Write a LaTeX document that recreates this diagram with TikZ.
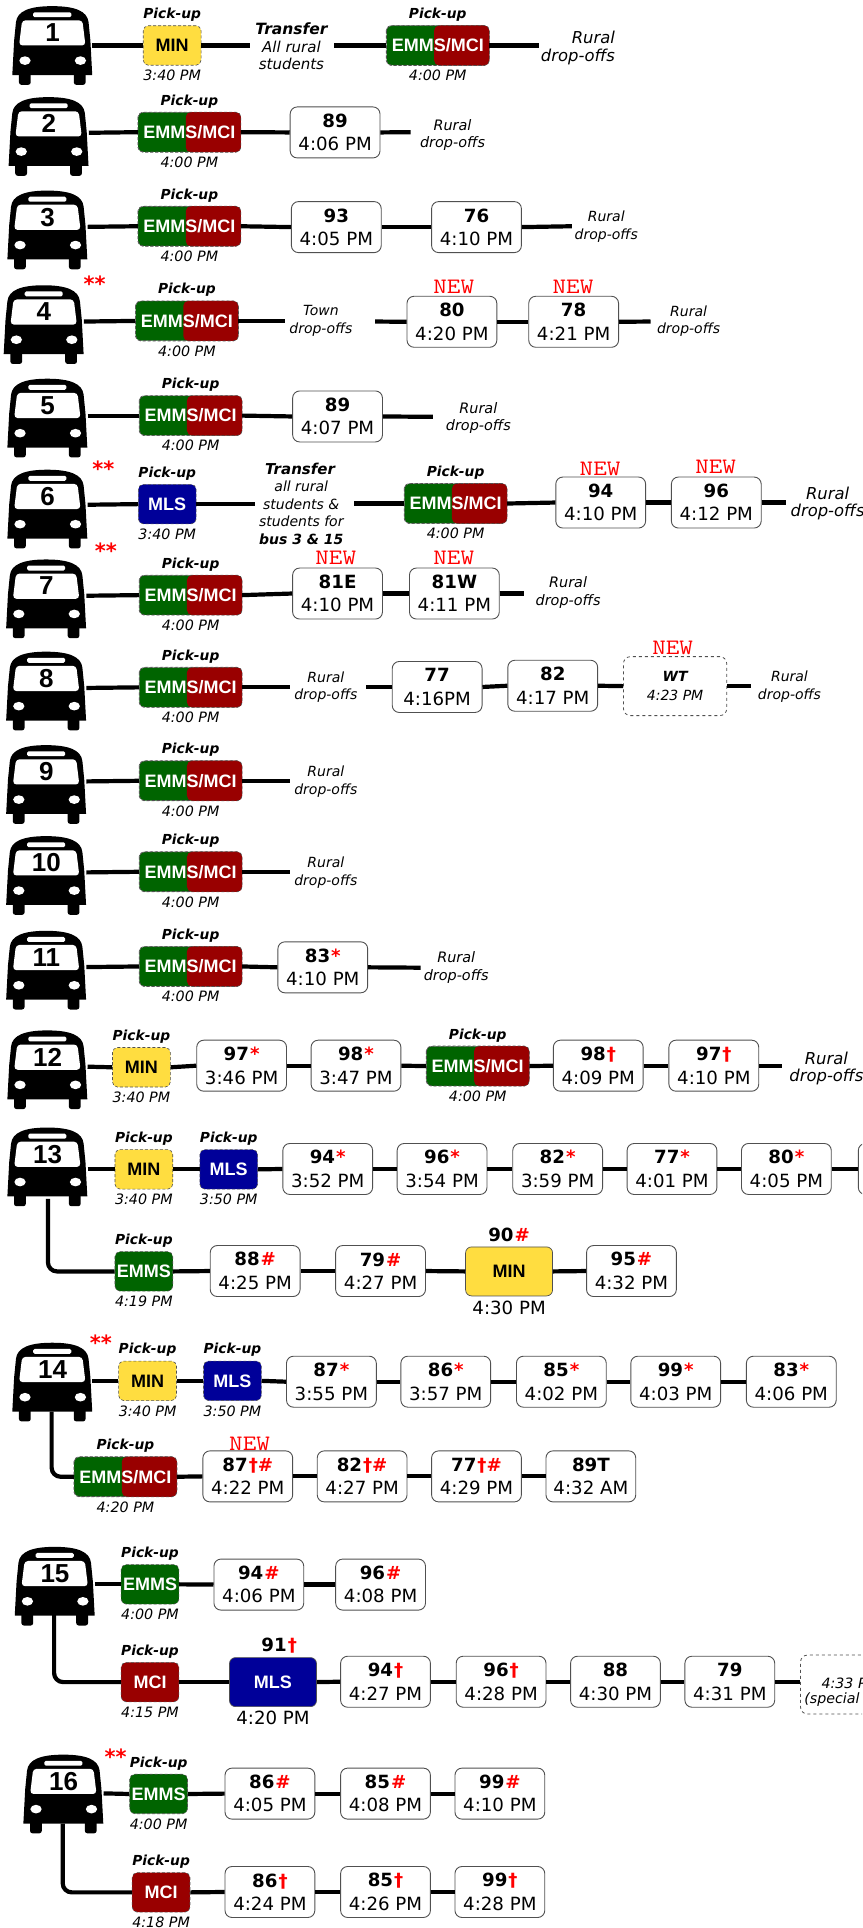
\documentclass[tikz,border=0pt]{standalone}
\usepackage{fontspec}
\setmainfont{DejaVu Sans}
\setsansfont{Liberation Sans}
\definecolor{pgreen}{HTML}{006400}
\definecolor{pred}{HTML}{990000}
\definecolor{pblue}{HTML}{000099}
\definecolor{pyel}{HTML}{FFDD40}
\definecolor{bdr}{HTML}{505050}
\newcommand\fz[2]{\fontsize{#1}{#2}\selectfont}
\newcommand\mk[1]{\textcolor{red}{\kern1pt #1}}
\tikzset{
  conn/.style={line width=4.2pt,draw=black},
  stopbox/.style={draw=bdr,line width=.9pt,fill=white,rounded corners=7pt,minimum width=89.8pt,minimum height=51pt,inner sep=0pt,align=center,font=\fz{18.2}{23.4}},
  dashbox/.style={draw=bdr,line width=.8pt,dashed,fill=white,rounded corners=7pt,inner sep=0pt,align=center},
  pillsolo/.style={draw=bdr,line width=.6pt,densely dashed,rounded corners=5pt,minimum width=57.8pt,minimum height=39.5pt,inner sep=0pt},
  pillduo/.style={draw=bdr,line width=.6pt,densely dashed,rounded corners=5pt,minimum width=102.5pt,minimum height=39.5pt,inner sep=0pt,fill=pgreen},
  pilltxt/.style={font=\sffamily\bfseries\fz{18}{20},inner sep=0pt},
  bigpill/.style={draw=bdr,line width=.7pt,rounded corners=6pt,minimum width=87pt,minimum height=49pt,inner sep=0pt,font=\sffamily\bfseries\fz{18}{20}},
  pu/.style={font=\bfseries\itshape\fz{13.8}{16},inner sep=0pt},
  tm/.style={font=\itshape\fz{14.3}{16},inner sep=0pt},
  note/.style={font=\itshape\fz{#1}{17.5},inner sep=0pt,align=center},
  newtag/.style={text=red,inner sep=0pt,font=\ttfamily\fz{22}{24}},
  stars/.style={text=red,inner sep=0pt,font=\bfseries\fz{21}{24}},
  busnum/.style={font=\sffamily\bfseries\fz{26}{28},inner sep=0pt},
  busport/.style={minimum width=80pt,minimum height=0pt,inner sep=0pt},
}
% name, left, top, line y, number
\newcommand\busicon[5]{%
  \begin{scope}[shift={(#2,#3)}]
    \fill[black,rounded corners=2.5pt] (5.4,48) rectangle (15,64);
    \fill[black,rounded corners=2.5pt] (50,48) rectangle (59.6,64);
    \fill[black] (0,56) -- (1.5,28) -- (3,13) .. controls (4,4) and (14,0) .. (32.5,0) .. controls (51,0) and (61,4) .. (62,13) -- (63.5,28) -- (65,56) -- cycle;
    \fill[white,rounded corners=1.5pt] (17,5) rectangle (48,9);
    \fill[white,rounded corners=3.5pt] (5.5,32) -- (8,11.5) -- (57,11.5) -- (59.5,32) -- cycle;
    \fill[white] (10.3,44.3) ellipse [x radius=4.6,y radius=3.5];
    \fill[white] (55.4,44.3) ellipse [x radius=4.6,y radius=3.5];
    \node[busnum] (#1n) at (32.7,21.6) {#5};
  \end{scope}
  \node[busport] (#1) at ({#2+32.5},#4) {};
}
% name, left, top, number, time
\newcommand\stopn[5]{\node[stopbox] (#1) at ({#2+36.5},{#3+20.7}) {{\bfseries #4}\\#5};}
% name, cx, cy, time
\newcommand\duo[4]{%
  \node[pillduo] (#1) at (#2,#3) {};
  \fill[pred,rounded corners=5pt] ($(#1.north west)!.465!(#1.north east)$) rectangle (#1.south east);
  \draw[bdr,line width=.6pt,densely dashed,rounded corners=5pt] (#1.north west) rectangle (#1.south east);
  \node[pilltxt,text=white] (#1x) at (#2,#3) {EMMS/MCI};
  \node[pu] (#1p) at (#2,{#3-25}) {Pick-up};
  \node[tm] (#1t) at (#2,{#3+24.5}) {#4};
}
% name, cx, cy, fill, textcolor, text, time
\newcommand\solo[7]{%
  \node[pillsolo,fill=#4,text=#5,font=\sffamily\bfseries\fz{18}{20}] (#1) at (#2,#3) {#6};
  \node[pu] (#1p) at (#2,{#3-25}) {Pick-up};
  \node[tm] (#1t) at (#2,{#3+24.5}) {#7};
}
\newcommand\lk[2]{\draw[conn] (#1.east) -- (#2.west);}
\usetikzlibrary{calc}
\begin{document}
\begin{tikzpicture}[x=1.22967pt,y=-1.22959pt]
\useasboundingbox (0,0) rectangle (701,1568);
\clip (0,0) rectangle (701,1568);
% ---- row 1
\busicon{b1}{10}{5}{37}{1}
\solo{r1a}{140}{37}{pyel}{black}{MIN}{3:40 PM}
\node[font=\bfseries\itshape\fz{15.5}{18},inner sep=0pt] (r1h) at (237,23) {Transfer};
\node[font=\itshape\fz{15}{17.5},inner sep=0pt,align=center] (r1n) at (237,45) {All rural\\students};
\coordinate (r1c) at (203,37);
\coordinate (r1d) at (272,37);
\duo{r1b}{356}{37}{4:00 PM}
\coordinate (r1e) at (438,37);
\node[note=16.4,align=right] (r1r) at (470,39) {Rural\\drop-offs};
\lk{b1}{r1a}
\draw[conn] (r1a.east) -- (r1c);
\draw[conn] (r1d) -- (r1b.west);
\draw[conn] (r1b.east) -- (r1e);
% ---- row 2
\busicon{b2}{7}{79}{108}{2}
\duo{r2a}{154}{107.5}{4:00 PM}
\stopn{r2b}{236}{87}{89}{4:06 PM}
\coordinate (r2c) at (334,107.5);
\node[note=14.4] (r2r) at (368,110) {Rural\\drop-offs};
\lk{b2}{r2a}\lk{r2a}{r2b}
\draw[conn] (r2b.east) -- (r2c);
% ---- row 3
\busicon{b3}{6}{155}{184.5}{3}
\duo{r3a}{154}{184}{4:00 PM}
\stopn{r3b}{237}{164}{93}{4:05 PM}
\stopn{r3c}{351}{164}{76}{4:10 PM}
\coordinate (r3d) at (465,184);
\node[note=14] (r3r) at (493,184.5) {Rural\\drop-offs};
\lk{b3}{r3a}\lk{r3a}{r3b}\lk{r3b}{r3c}
\draw[conn] (r3c.east) -- (r3d);
% ---- row 4
\node[stars] (s4) at (77,231) {**};
\busicon{b4}{3}{232}{261.5}{4}
\duo{r4a}{152}{261}{4:00 PM}
\coordinate (r4c) at (232,261);
\node[note=14] (r4n) at (261,261) {Town\\drop-offs};
\coordinate (r4d) at (305,261.5);
\stopn{r4e}{331}{241}{80}{4:20 PM}
\stopn{r4f}{430}{241}{78}{4:21 PM}
\node[newtag] (n4e) at (369,233) {\scalebox{1.2}[1]{NEW}};
\node[newtag] (n4f) at (466,233) {\scalebox{1.2}[1]{NEW}};
\coordinate (r4g) at (529,261.5);
\node[note=14] (r4r) at (560,261) {Rural\\drop-offs};
\lk{b4}{r4a}
\draw[conn] (r4a.east) -- (r4c);
\draw[conn] (r4d) -- (r4e.west);
\lk{r4e}{r4f}
\draw[conn] (r4f.east) -- (r4g);
% ---- row 5
\busicon{b5}{6}{308}{338}{5}
\duo{r5a}{155}{338}{4:00 PM}
\stopn{r5b}{238}{318}{89}{4:07 PM}
\coordinate (r5c) at (352,339);
\node[note=14.4] (r5r) at (389,340) {Rural\\drop-offs};
\lk{b5}{r5a}\lk{r5a}{r5b}
\draw[conn] (r5b.east) -- (r5c);
% ---- row 6
\node[stars] (s6) at (84,381) {**};
\busicon{b6}{6}{382}{410.5}{6}
\solo{r6a}{136}{410}{pblue}{white}{MLS}{3:40 PM}
\coordinate (r6b) at (207,410);
\node[font=\bfseries\itshape\fz{15}{18},inner sep=0pt] (r6h) at (244,381) {Transfer};
\node[font=\itshape\fz{14}{17.5},inner sep=0pt,align=center] (r6n) at (245,417) {all rural\\students \&\\students for\\{\bfseries bus 3 \& 15}};
\coordinate (r6c) at (288,409.5);
\duo{r6d}{370.5}{409.5}{4:00 PM}
\stopn{r6e}{452}{388}{94}{4:10 PM}
\stopn{r6f}{546}{388}{96}{4:12 PM}
\node[newtag] (n6e) at (488,381) {\scalebox{1.2}[1]{NEW}};
\node[newtag] (n6f) at (582,380) {\scalebox{1.2}[1]{NEW}};
\coordinate (r6g) at (639,408.7);
\node[note=16.4] (r6r) at (673,409.5) {Rural\\drop-offs};
\lk{b6}{r6a}
\draw[conn] (r6a.east) -- (r6b);
\draw[conn] (r6c) -- (r6d.west);
\lk{r6d}{r6e}\lk{r6e}{r6f}
\draw[conn] (r6f.east) -- (r6g);
% ---- row 7
\node[stars] (s7) at (86,448) {**};
\busicon{b7}{5}{455}{484.5}{7}
\duo{r7a}{155}{484}{4:00 PM}
\stopn{r7b}{238}{462}{81E}{4:10 PM}
\stopn{r7c}{333}{462}{81W}{4:11 PM}
\node[newtag] (n7b) at (273,454) {\scalebox{1.2}[1]{NEW}};
\node[newtag] (n7c) at (369,454) {\scalebox{1.2}[1]{NEW}};
\coordinate (r7d) at (426,482.7);
\node[note=14.4] (r7r) at (462,482) {Rural\\drop-offs};
\lk{b7}{r7a}\lk{r7a}{r7b}\lk{r7b}{r7c}
\draw[conn] (r7c.east) -- (r7d);
% ---- row 8
\busicon{b8}{5}{530}{559.5}{8}
\duo{r8a}{155}{559}{4:00 PM}
\coordinate (r8c) at (236,559);
\node[note=14] (r8n) at (265,559) {Rural\\drop-offs};
\coordinate (r8d) at (298,558.7);
\stopn{r8e}{319}{538}{77}{4:16PM}
\stopn{r8f}{413}{537}{82}{4:17 PM}
\node[dashbox,minimum width=103.3pt,minimum height=59pt,font=\fz{14}{19.5}] (r8g) at (549,558) {{\bfseries\itshape WT}\\\itshape 4:23 PM};
\node[newtag] (n8g) at (547,527) {\scalebox{1.2}[1]{NEW}};
\coordinate (r8h) at (611,558);
\node[note=14] (r8r) at (642,558.5) {Rural\\drop-offs};
\lk{b8}{r8a}
\draw[conn] (r8a.east) -- (r8c);
\draw[conn] (r8d) -- (r8e.west);
\lk{r8e}{r8f}\lk{r8f}{r8g}
\draw[conn] (r8g.east) -- (r8h);
% ---- row 9
\busicon{b9}{5}{606}{635.5}{9}
\duo{r9a}{155}{635}{4:00 PM}
\coordinate (r9c) at (236,635);
\node[note=14] (r9r) at (265,635.5) {Rural\\drop-offs};
\lk{b9}{r9a}
\draw[conn] (r9a.east) -- (r9c);
% ---- row 10
\busicon{b10}{5}{680}{709.5}{10}
\duo{r10a}{155}{709}{4:00 PM}
\coordinate (r10c) at (236,709);
\node[note=14] (r10r) at (265,709.5) {Rural\\drop-offs};
\lk{b10}{r10a}
\draw[conn] (r10a.east) -- (r10c);
% ---- row 11
\busicon{b11}{5}{757}{786.5}{11}
\duo{r11a}{155}{786}{4:00 PM}
\stopn{r11b}{226}{766}{83\mk{*}}{4:10 PM}
\coordinate (r11c) at (342,787);
\node[note=14.4] (r11r) at (371,787) {Rural\\drop-offs};
\lk{b11}{r11a}\lk{r11a}{r11b}
\draw[conn] (r11b.east) -- (r11c);
% ---- row 12
\busicon{b12}{6}{838}{867.5}{12}
\solo{r12a}{115}{868}{pyel}{black}{MIN}{3:40 PM}
\stopn{r12b}{160}{846}{97\mk{*}}{3:46 PM}
\stopn{r12c}{253}{846}{98\mk{*}}{3:47 PM}
\duo{r12d}{388.5}{867}{4:00 PM}
\stopn{r12e}{450}{846}{98\mk{†}}{4:09 PM}
\stopn{r12f}{544}{846}{97\mk{†}}{4:10 PM}
\coordinate (r12g) at (636,866.7);
\node[note=16.4] (r12r) at (672,869) {Rural\\drop-offs};
\lk{b12}{r12a}\lk{r12a}{r12b}\lk{r12b}{r12c}\lk{r12c}{r12d}\lk{r12d}{r12e}\lk{r12e}{r12f}
\draw[conn] (r12f.east) -- (r12g);
% ---- row 13
\busicon{b13}{6}{917}{951}{13}
\solo{r13a}{117}{951}{pyel}{black}{MIN}{3:40 PM}
\solo{r13b}{186}{951}{pblue}{white}{MLS}{3:50 PM}
\stopn{r13c}{230}{930}{94\mk{*}}{3:52 PM}
\stopn{r13d}{323}{930}{96\mk{*}}{3:54 PM}
\stopn{r13e}{417}{930}{82\mk{*}}{3:59 PM}
\stopn{r13f}{510}{930}{77\mk{*}}{4:01 PM}
\stopn{r13g}{603}{930}{80\mk{*}}{4:05 PM}
\node[stopbox] (r13h) at (734.5,950.7) {};
\lk{b13}{r13a}\lk{r13a}{r13b}\lk{r13b}{r13c}\lk{r13c}{r13d}\lk{r13d}{r13e}\lk{r13e}{r13f}\lk{r13f}{r13g}\lk{r13g}{r13h}
\solo{r13j}{117}{1034}{pgreen}{white}{EMMS}{4:19 PM}
\stopn{r13k}{171}{1013}{88\mk{\#}}{4:25 PM}
\stopn{r13l}{273}{1013}{79\mk{\#}}{4:27 PM}
\node[bigpill,fill=pyel] (r13m) at (414,1034) {MIN};
\node[font=\bfseries\fz{18.2}{20},inner sep=0pt] (r13mh) at (414,1004) {90\mk{\#}};
\node[font=\fz{18.2}{20},inner sep=0pt] (r13mt) at (414,1064) {4:30 PM};
\stopn{r13n}{477}{1013}{95\mk{\#}}{4:32 PM}
\coordinate (r13o) at (39,975);
\draw[conn,rounded corners=9pt] (r13o) |- (r13j.west);
\lk{r13j}{r13k}\lk{r13k}{r13l}\lk{r13l}{r13m}\lk{r13m}{r13n}
% ---- row 14
\node[stars] (s14) at (82,1092) {**};
\busicon{b14}{10}{1092}{1123}{14}
\solo{r14a}{120}{1123}{pyel}{black}{MIN}{3:40 PM}
\solo{r14b}{189}{1123}{pblue}{white}{MLS}{3:50 PM}
\stopn{r14c}{233}{1103}{87\mk{*}}{3:55 PM}
\stopn{r14d}{326}{1103}{86\mk{*}}{3:57 PM}
\stopn{r14e}{420}{1103}{85\mk{*}}{4:02 PM}
\stopn{r14f}{513}{1103}{99\mk{*}}{4:03 PM}
\stopn{r14g}{607}{1103}{83\mk{*}}{4:06 PM}
\lk{b14}{r14a}\lk{r14a}{r14b}\lk{r14b}{r14c}\lk{r14c}{r14d}\lk{r14d}{r14e}\lk{r14e}{r14f}\lk{r14f}{r14g}
\duo{r14j}{102}{1201}{4:20 PM}
\stopn{r14k}{165}{1180}{87\mk{†\#}}{4:22 PM}
\stopn{r14l}{258}{1180}{82\mk{†\#}}{4:27 PM}
\stopn{r14m}{351}{1180}{77\mk{†\#}}{4:29 PM}
\stopn{r14n}{444}{1180}{89T}{4:32 AM}
\node[newtag] (n14k) at (203,1174) {\scalebox{1.2}[1]{NEW}};
\coordinate (r14o) at (42,1148);
\draw[conn,rounded corners=9pt] (r14o) |- (r14j.west);
\lk{r14j}{r14k}\lk{r14k}{r14l}\lk{r14l}{r14m}\lk{r14m}{r14n}
% ---- row 15
\busicon{b15}{12}{1258}{1288.5}{15}
\solo{r15a}{122}{1288.5}{pgreen}{white}{EMMS}{4:00 PM}
\stopn{r15b}{174}{1268}{94\mk{\#}}{4:06 PM}
\stopn{r15c}{273}{1268}{96\mk{\#}}{4:08 PM}
\lk{b15}{r15a}\lk{r15a}{r15b}\lk{r15b}{r15c}
\solo{r15j}{122}{1368}{pred}{white}{MCI}{4:15 PM}
\node[bigpill,fill=pblue,text=white] (r15k) at (222,1368) {MLS};
\node[font=\bfseries\fz{18.2}{20},inner sep=0pt] (r15kh) at (227,1338) {91\mk{†}};
\node[font=\fz{18.2}{20},inner sep=0pt] (r15kt) at (222,1397) {4:20 PM};
\stopn{r15l}{277}{1347}{94\mk{†}}{4:27 PM}
\stopn{r15m}{371}{1347}{96\mk{†}}{4:28 PM}
\stopn{r15n}{464}{1347}{88}{4:30 PM}
\stopn{r15o}{557}{1347}{79}{4:31 PM}
\node[dashbox,minimum width=103.3pt,minimum height=59pt] (r15p) at (693,1370) {};
\node[font=\itshape\fz{14.2}{16},inner sep=0pt,anchor=west] (r15q) at (668,1369) {4:33 PM};
\node[font=\itshape\fz{14.2}{16},inner sep=0pt,anchor=west] (r15r) at (654,1382.5) {(special};
\coordinate (r15s) at (44,1313);
\draw[conn,rounded corners=9pt] (r15s) |- (r15j.west);
\lk{r15j}{r15k}\lk{r15k}{r15l}\lk{r15l}{r15m}\lk{r15m}{r15n}\lk{r15n}{r15o}
\draw[conn] (r15o.east) -- (r15o.east -| r15p.west);
% ---- row 16
\node[stars] (s16) at (94,1429) {**};
\busicon{b16}{19}{1427}{1458.5}{16}
\solo{r16a}{129}{1459}{pgreen}{white}{EMMS}{4:00 PM}
\stopn{r16b}{183}{1438}{86\mk{\#}}{4:05 PM}
\stopn{r16c}{277}{1438}{85\mk{\#}}{4:08 PM}
\stopn{r16d}{370}{1438}{99\mk{\#}}{4:10 PM}
\lk{b16}{r16a}\lk{r16a}{r16b}\lk{r16b}{r16c}\lk{r16c}{r16d}
\solo{r16j}{131}{1539}{pred}{white}{MCI}{4:18 PM}
\stopn{r16k}{183}{1518}{86\mk{†}}{4:24 PM}
\stopn{r16l}{277}{1518}{85\mk{†}}{4:26 PM}
\stopn{r16m}{370}{1518}{99\mk{†}}{4:28 PM}
\coordinate (r16o) at (51,1483);
\draw[conn,rounded corners=9pt] (r16o) |- (r16j.west);
\lk{r16j}{r16k}\lk{r16k}{r16l}\lk{r16l}{r16m}
\end{tikzpicture}
\end{document}
